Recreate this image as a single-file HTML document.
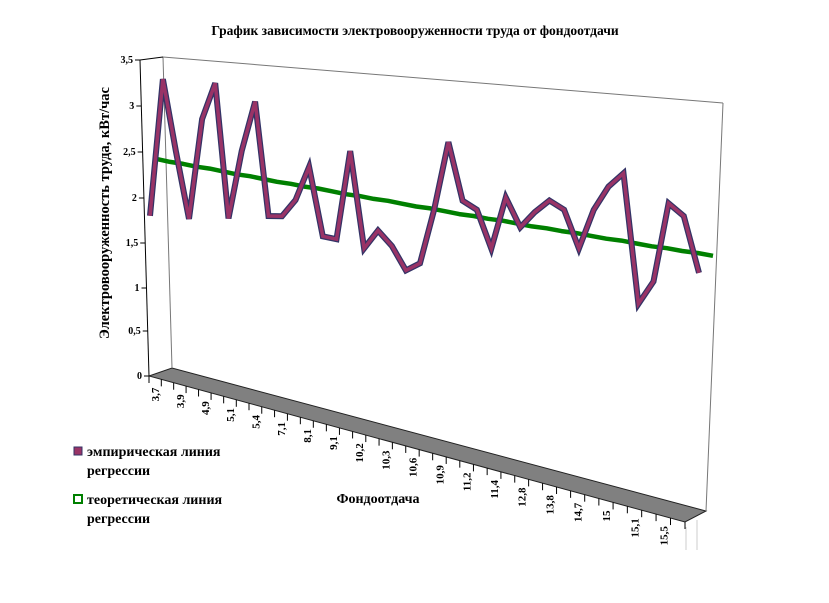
<!DOCTYPE html>
<html><head><meta charset="utf-8"><style>
body{margin:0;background:#fff;}
svg{display:block;font-family:"Liberation Serif",serif;}
</style></head><body>
<svg id="chart" width="829" height="603" viewBox="0 0 829 603" xmlns="http://www.w3.org/2000/svg">
<rect x="0" y="0" width="829" height="603" fill="#fff"/>
<text x="415" y="35" text-anchor="middle" font-size="13.5" font-weight="bold">График зависимости электровооруженности труда от фондоотдачи</text>
<polygon points="149,376 172,368 706,511 685,522" fill="#808080" stroke="#222" stroke-width="1"/>
<line x1="163" y1="57" x2="723" y2="103" stroke="#777" stroke-width="1"/>
<line x1="163" y1="57" x2="172" y2="368" stroke="#777" stroke-width="1"/>
<line x1="723" y1="103" x2="706" y2="511" stroke="#777" stroke-width="1"/>
<line x1="140" y1="60" x2="163" y2="57" stroke="#000" stroke-width="1"/>
<line x1="140" y1="60" x2="149" y2="376" stroke="#000" stroke-width="1"/>
<line x1="686" y1="527" x2="686" y2="550" stroke="#ccc"/>
<line x1="697" y1="520" x2="697" y2="550" stroke="#ccc"/>
<g id="yticks"></g>
<g id="xticks"></g>
<g id="series"></g>
<text transform="translate(109,213) rotate(-90)" text-anchor="middle" font-size="14.5" font-weight="bold">Электровооруженность труда, кВт/час</text>
<text x="378" y="503" text-anchor="middle" font-size="14" font-weight="bold">Фондоотдача</text>
<g>
<g>
<rect x="74" y="447" width="8" height="8" fill="#993366" stroke="#333366" stroke-width="1"/>
<text x="87" y="456" font-size="14" font-weight="bold">эмпирическая линия</text>
<text x="87" y="475" font-size="14" font-weight="bold">регрессии</text>
</g>
<g>
<rect x="74" y="495" width="8" height="8" fill="#fff" stroke="#008000" stroke-width="2"/>
<text x="87" y="504" font-size="14" font-weight="bold">теоретическая линия</text>
<text x="87" y="523" font-size="14" font-weight="bold">регрессии</text>
</g>
</g>
</svg>
<script>
const categories = ["3,7","3,8","3,9","4,2","4,9","5","5,1","5,2","5,4","6","7,1","7,5","8,1","8,7","9,1","9,8","10,2","10,2","10,3","10,5","10,6","10,8","10,9","11","11,2","11,3","11,4","12","12,8","13","13,8","14","14,7","14,9","15","15","15,1","15,3","15,5","15,7"];
const empirical = [1.78,3.31,2.52,1.78,2.90,3.31,1.82,2.58,3.14,1.88,1.89,2.08,2.46,1.70,1.68,2.67,1.60,1.81,1.65,1.39,1.48,2.09,2.85,2.21,2.12,1.70,2.28,1.96,2.14,2.28,2.19,1.77,2.21,2.48,2.64,1.20,1.46,2.34,2.21,1.59];
const theoretical = [2.41,2.39,2.38,2.36,2.35,2.33,2.31,2.30,2.28,2.26,2.25,2.23,2.22,2.20,2.18,2.17,2.15,2.14,2.12,2.10,2.09,2.07,2.05,2.04,2.02,2.01,1.99,1.97,1.96,1.94,1.93,1.91,1.89,1.88,1.86,1.84,1.83,1.81,1.80,1.78];
const yTickLabels = ["0","0,5","1","1,5","2","2,5","3","3,5"];
const yTickPix = [376,331,288,243,198,152,106,60];

const NS = "http://www.w3.org/2000/svg";
function mk(tag, attrs, parent){const e=document.createElementNS(NS,tag);for(const k in attrs)e.setAttribute(k,attrs[k]);parent.appendChild(e);return e;}
const n = categories.length;
function tOf(i){return i/(n-1);}
function warp(t){return 0.916*t+0.084*t*t;}
function xS(i, x0, x1){return x0+(x1-x0)*warp(tOf(i));}
function yS(i, v){return 376+40*tOf(i)-v*90;}

// y ticks
const yg=document.getElementById('yticks');
yTickLabels.forEach((lab,k)=>{
  const y=yTickPix[k];
  const x=140+9*(376-y===0?1:(y-60)/316);
  const xa=140+9*((y-60)/316);
  const l=mk('line',{x1:xa-5,y1:y,x2:xa,y2:y,stroke:'#000'},yg);
  
  
  const t=mk('text',{x:xa-7,y:y+3,'text-anchor':'end','font-size':'10','font-weight':'bold'},yg);
  
  
  t.textContent=lab;
});

// x ticks along front floor edge
const xg=document.getElementById('xticks');
for(let i=0;i<=n;i++){
  const f=i/n;
  const w=0.916*f+0.084*f*f;
  const x=149+(685-149)*w, y=376+(522-376)*w;
  const l=mk('line',{x1:x,y1:y,x2:x,y2:y+7,stroke:'#000'},xg);
  
  
}
for(let i=0;i<n;i+=2){
  const f=(i+0.5)/n;
  const w=0.916*f+0.084*f*f;
  const x=149+(685-149)*w, y=376+(522-376)*w;
  const t=mk('text',{transform:`translate(${x+4},${y+10}) rotate(-90)`,'text-anchor':'end','font-size':'11','font-weight':'bold'},xg);
  
  
  t.textContent=categories[i];
}

// series
const sg=document.getElementById('series');
const gp=theoretical.map((v,i)=>{const t=tOf(i);return (xS(i,157,713)).toFixed(1)+','+(yS(i,v)).toFixed(1);}).join(' ');
const g1=mk('polyline',{points:gp,fill:'none',stroke:'#008000','stroke-width':'4.5','stroke-linejoin':'round'},sg);


const ep=empirical.map((v,i)=>(xS(i,150,699)).toFixed(1)+','+(yS(i,v)).toFixed(1)).join(' ');
const e1=mk('polyline',{points:ep,fill:'none',stroke:'#333366','stroke-width':'6'},sg);


const e2=mk('polyline',{points:ep,fill:'none',stroke:'#993366','stroke-width':'3.5'},sg);


</script>
</body></html>
